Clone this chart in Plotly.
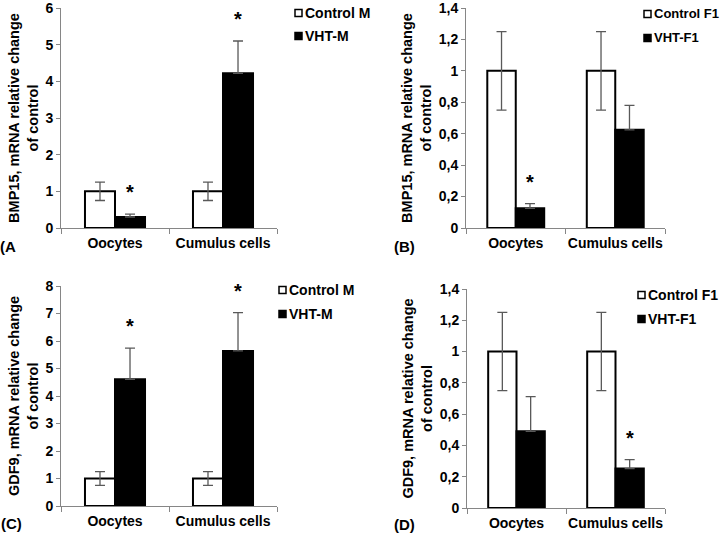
import plotly.graph_objects as go

# ---------------- data ----------------
categories = ["Oocytes", "Cumulus cells"]

bmp15_m_control = [1.0, 1.0]
bmp15_m_control_err = [0.25, 0.25]
bmp15_m_vht = [0.30, 4.22]
bmp15_m_vht_err = [0.08, 0.88]
bmp15_m_sig = [True, True]

bmp15_f1_control = [1.0, 1.0]
bmp15_f1_control_err = [0.25, 0.25]
bmp15_f1_vht = [0.125, 0.625]
bmp15_f1_vht_err = [0.03, 0.155]
bmp15_f1_sig = [True, False]

gdf9_m_control = [1.0, 1.0]
gdf9_m_control_err = [0.25, 0.25]
gdf9_m_vht = [4.61, 5.64]
gdf9_m_vht_err = [1.13, 1.39]
gdf9_m_sig = [True, True]

gdf9_f1_control = [1.0, 1.0]
gdf9_f1_control_err = [0.25, 0.25]
gdf9_f1_vht = [0.49, 0.252]
gdf9_f1_vht_err = [0.222, 0.057]
gdf9_f1_sig = [False, True]

ticks_m_bmp = [0, 1, 2, 3, 4, 5, 6]
ticks_m_gdf = [0, 1, 2, 3, 4, 5, 6, 7, 8]
ticks_f1 = [0, 0.2, 0.4, 0.6, 0.8, 1.0, 1.2, 1.4]
ticks_f1_text = ["0", "0,2", "0,4", "0,6", "0,8", "1", "1,2", "1,4"]

# ---------------- style ----------------
FONT = "Arial, 'Liberation Sans', sans-serif"
AXIS_GRAY = "#868686"
ERR_GRAY = "#595959"
W, H = 720, 534

panels = [
    dict(key="A", ctrl=bmp15_m_control, ctrl_err=bmp15_m_control_err,
         vht=bmp15_m_vht, vht_err=bmp15_m_vht_err, sig=bmp15_m_sig,
         names=("Control M", "VHT-M"), ytitle="BMP15, mRNA relative change<br>of control",
         rng=[0, 6], tv=ticks_m_bmp, tt=[str(t) for t in ticks_m_bmp],
         px=(61, 277), py=(8, 228), bw=0.278,
         leg=(304, 13, 36, 14), label="(A", lab=(8, 246)),
    dict(key="B", ctrl=bmp15_f1_control, ctrl_err=bmp15_f1_control_err,
         vht=bmp15_f1_vht, vht_err=bmp15_f1_vht_err, sig=bmp15_f1_sig,
         names=("Control F1", "VHT-F1"), ytitle="BMP15, mRNA relative change<br>of control",
         rng=[0, 1.4], tv=ticks_f1, tt=ticks_f1_text,
         px=(466, 665), py=(8, 228), bw=0.286,
         leg=(653, 14, 38, 13), label="(B)", lab=(404, 246)),
    dict(key="C", ctrl=gdf9_m_control, ctrl_err=gdf9_m_control_err,
         vht=gdf9_m_vht, vht_err=gdf9_m_vht_err, sig=gdf9_m_sig,
         names=("Control M", "VHT-M"), ytitle="GDF9, mRNA relative change<br>of control",
         rng=[0, 8], tv=ticks_m_gdf, tt=[str(t) for t in ticks_m_gdf],
         px=(61, 277), py=(286, 506), bw=0.278,
         leg=(288, 290, 314, 14), label="(C)", lab=(11, 523)),
    dict(key="D", ctrl=gdf9_f1_control, ctrl_err=gdf9_f1_control_err,
         vht=gdf9_f1_vht, vht_err=gdf9_f1_vht_err, sig=gdf9_f1_sig,
         names=("Control F1", "VHT-F1"), ytitle="GDF9, mRNA relative change<br>of control",
         rng=[0, 1.4], tv=ticks_f1, tt=ticks_f1_text,
         px=(467, 665), py=(289, 508), bw=0.286,
         leg=(647, 295, 319, 14), label="(D)", lab=(404, 524)),
]

fig = go.Figure()
layout = dict(
    width=W, height=H, margin=dict(l=0, r=0, t=0, b=0),
    paper_bgcolor="white", plot_bgcolor="white",
    font=dict(family=FONT, size=14, color="black", weight="bold"),
    barmode="overlay", showlegend=False,
)
annotations = []
shapes = []

for i, p in enumerate(panels):
    n = "" if i == 0 else str(i + 1)
    xa, ya = "x" + n, "y" + n
    bw = p["bw"]
    fig.add_trace(go.Bar(
        x=categories, y=p["ctrl"], name=p["names"][0], xaxis=xa, yaxis=ya,
        width=bw, offset=-bw,
        marker=dict(color="white", line=dict(color="black", width=2)),
        error_y=dict(type="data", array=p["ctrl_err"], visible=True,
                     color=ERR_GRAY, thickness=1.3, width=5),
    ))
    fig.add_trace(go.Bar(
        x=categories, y=p["vht"], name=p["names"][1], xaxis=xa, yaxis=ya,
        width=bw, offset=0,
        marker=dict(color="black", line=dict(color="black", width=2)),
        error_y=dict(type="data", array=p["vht_err"], arrayminus=[0, 0], visible=True,
                     color=ERR_GRAY, thickness=1.3, width=5),
    ))
    x0, x1 = p["px"]
    yt, yb = p["py"]
    layout["xaxis" + n] = dict(
        domain=[x0 / W, x1 / W], anchor=ya, type="category", range=[-0.5, 1.5],
        showline=True, linecolor=AXIS_GRAY, linewidth=1, ticks="outside",
        tickson="boundaries", ticklen=5, tickcolor=AXIS_GRAY, showgrid=False,
        tickangle=0, ticklabelstandoff=2,
        tickfont=dict(size=14, family=FONT, weight="bold"),
    )
    layout["yaxis" + n] = dict(
        domain=[1 - yb / H, 1 - yt / H], anchor=xa, range=p["rng"],
        tickvals=p["tv"], ticktext=p["tt"], ticklabeloverflow="allow",
        showline=True, linecolor=AXIS_GRAY, linewidth=1, ticks="outside",
        ticklen=4, tickcolor=AXIS_GRAY, showgrid=False, zeroline=False,
        tickfont=dict(size=14, family=FONT, weight="bold"),
        title=dict(text=p["ytitle"], font=dict(size=14.5, family=FONT, weight="bold"),
                   standoff=3),
        automargin=False,
    )
    # legend: swatch + label (text start x, item y's, font size)
    tx, ly1, ly2, fs = p["leg"]
    for (yy, fill, name) in ((ly1, "white", p["names"][0]), (ly2, "black", p["names"][1])):
        shapes.append(dict(
            type="rect", xref="paper", yref="paper",
            x0=(tx - 9) / W, x1=(tx - 2) / W, y0=1 - (yy + 3.5) / H, y1=1 - (yy - 3.5) / H,
            fillcolor=fill, line=dict(color="black", width=1.5),
        ))
        annotations.append(dict(
            x=tx / W, y=1 - yy / H, xref="paper", yref="paper",
            text=name, showarrow=False, xanchor="left", yanchor="middle",
            borderpad=0, font=dict(size=fs, family=FONT, weight="bold"),
        ))
    for j, s in enumerate(p["sig"]):
        if s:
            annotations.append(dict(
                x=j + bw / 2, y=p["vht"][j] + p["vht_err"][j], xref=xa, yref=ya,
                text="*", showarrow=False, yanchor="bottom", yshift=9,
                font=dict(size=20, family=FONT, weight="bold"),
            ))
    annotations.append(dict(
        x=p["lab"][0] / W, y=1 - p["lab"][1] / H, xref="paper", yref="paper",
        text=p["label"], showarrow=False, xanchor="center", yanchor="middle",
        borderpad=0, font=dict(size=15, family=FONT, weight="bold"),
    ))

layout["annotations"] = annotations
layout["shapes"] = shapes
fig.update_layout(**layout)
fig.write_html(
    "out.html",
    config={"displayModeBar": False},
    post_script="document.body.style.margin='0px';document.body.style.overflow='hidden';",
)
